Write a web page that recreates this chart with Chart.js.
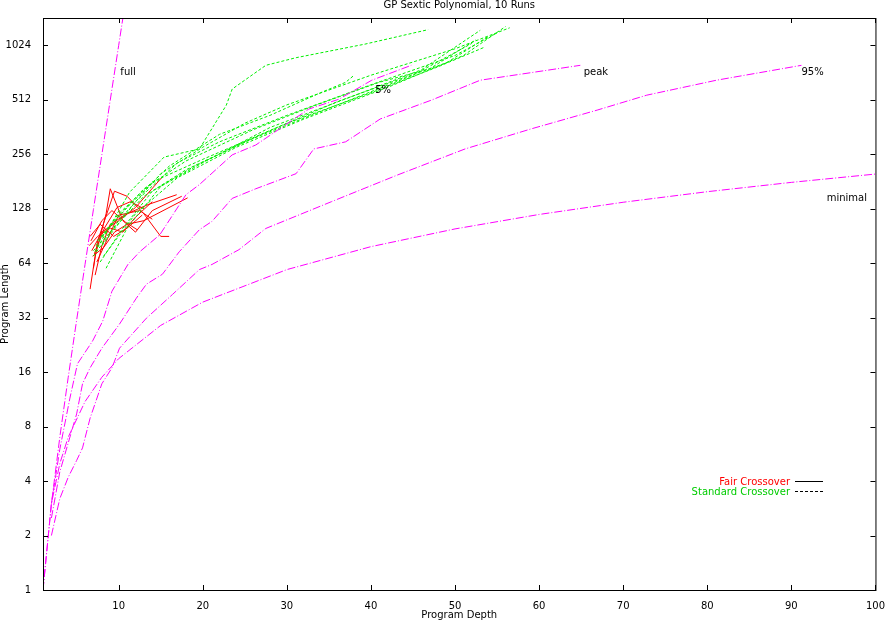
<!DOCTYPE html>
<html>
<head>
<meta charset="utf-8">
<script src="https://cdn.jsdelivr.net/npm/chart.js@4/dist/chart.umd.min.js"></script>
<style>
  body { margin: 0; background: #fff; }
  canvas { display: block; }
</style>
</head>
<body>
<canvas id="c" width="887" height="621"></canvas>
<script>
// axis ticks
const xTicks = [10, 20, 30, 40, 50, 60, 70, 80, 90, 100];
const yTicks = [1, 2, 4, 8, 16, 32, 64, 128, 256, 512, 1024];

// theoretical limits (depth, length)
const fullCurve = [[1,1],[2,3],[3,7],[4,15],[5,31],[6,63],[7,127],[8,255],[9,511],[10,1023],[11,2047]];
const minimalCurve = [[1,1],[2,3],[3,5],[4,7],[6,11],[8,15],[10,19],[15,29],[20,39],[30,59],[40,79],[50,99],[60,119],[70,139],[80,159],[90,179],[100,199]];
const pct5Curve = [[2,3],[3,6],[4.2,11.5],[5.1,17.8],[6.9,23.8],[8.1,30.6],[9.2,44.8],[11.1,63],[12.5,74],[14.9,92],[18,153],[19.6,174],[23.5,254],[26.3,288],[32.6,455],[36.2,516],[40.1,657],[44.8,794]];
const peakCurve = [[2,2.5],[3,4.5],[4,6.5],[5,9.4],[5.7,13.8],[6.6,16.9],[8,21.7],[10.1,29.5],[12.1,41],[13.3,49],[15.2,55.6],[17.2,74],[19.6,98],[21.1,109],[23.5,146],[26.3,165],[31.1,200],[33.2,274],[37,300],[41.1,401],[47.2,510],[53,657],[64.9,794]];
const pct95Curve = [[2,2],[3,3.2],[4,4.2],[5,5.2],[5.7,6.1],[6.6,8.9],[8,13.8],[9.2,16.9],[10.1,21.7],[13.3,31.8],[16.4,43],[19.6,59],[21.1,63],[24.3,76],[27.5,99.6],[35.3,140],[43.2,197],[51.2,274],[59,353],[66.9,449],[72.8,543],[81.1,657],[91.2,794]];

// fair crossover runs (red)
const redRuns = [
  [[6.6,46],[7.2,70],[8.5,120],[9,165],[10.5,110],[12,95],[14,125],[17.5,150]],
  [[7,60],[7.5,85],[9.5,160],[11,150],[13,120],[15,90],[16,90]],
  [[6.8,75],[8,95],[10,110],[12,130],[15.2,192]],
  [[7.2,55],[8,80],[9,105],[11,120],[13.5,135],[16.9,153]],
  [[6.5,80],[7.5,90],[9,100],[10.5,95],[12,115],[14,140]],
  [[6.9,70],[8.2,78],[9.5,95],[11,105],[13,110],[18.2,147]],
  [[7.4,65],[8.7,88],[10,118],[12.5,125],[14,112]],
  [[6.7,85],[8,110],[9.2,125],[10.8,108],[12.2,98]],
  [[7.1,72],[8.3,100],[9.8,130],[11.4,140],[13,128]],
  [[6.6,90],[7.8,105],[9.4,90],[11,100],[12.8,118]]
];

// standard crossover runs (green)
const greenRuns = [
  [[7.2,74],[11.3,158],[15.4,247],[19.6,274],[22.8,478],[23.5,587],[27.5,794],[31.1,875],[39.3,1040],[46.8,1250]],
  [[7,70],[10,110],[15,200],[20,280],[25,380],[30,480],[40,700],[50,980],[56.5,1280]],
  [[8,80],[12,140],[17,230],[22,300],[30,420],[40,620],[50,900],[55,1200]],
  [[8.5,60],[11,100],[15,170],[20,230],[28,360],[38,540],[46,750],[53,1240]],
  [[7.5,85],[10,120],[14,180],[20,240],[30,380],[40,560],[48,780],[53.5,1000]],
  [[7,75],[9,95],[13,150],[18,210],[25,300],[35,460],[45,700],[52,1050]],
  [[8,90],[11,130],[16,220],[22,330],[28,420],[34,560],[37,640],[38,700]],
  [[7.8,65],[10.5,100],[14,160],[19,220],[27,330],[36,500],[44,680],[49,820],[54,1150]],
  [[8.2,70],[12,120],[17,190],[24,280],[32,400],[42,600],[51,900],[56,1300]],
  [[7.3,80],[9.5,110],[13,165],[18,235],[26,350],[33,470],[41,640],[47,760],[52.5,1100]]
];

const magenta = '#ff00ff';
const toPts = arr => arr.map(p => ({ x: p[0], y: p[1] }));

const datasets = [];
[fullCurve, pct5Curve, peakCurve, pct95Curve, minimalCurve].forEach(c => {
  datasets.push({ data: toPts(c), borderColor: magenta, borderWidth: 1, borderDash: [8, 2, 1, 2], pointRadius: 0, showLine: true, tension: 0 });
});
greenRuns.forEach(r => datasets.push({ data: toPts(r), borderColor: '#00ee00', borderWidth: 1, borderDash: [3, 2], pointRadius: 0, showLine: true }));
redRuns.forEach(r => datasets.push({ data: toPts(r), borderColor: '#ff0000', borderWidth: 1, pointRadius: 0, showLine: true }));

const curveLabels = [
  { text: 'full', x: 10.2, y: 700 },
  { text: '5%', x: 40.5, y: 560 },
  { text: 'peak', x: 65.3, y: 705 },
  { text: '95%', x: 91.2, y: 705 },
  { text: 'minimal', x: 94.2, y: 142 }
];

const extras = {
  id: 'extras',
  afterDraw(chart) {
    const { ctx, chartArea: a, scales } = chart;
    ctx.save();
    ctx.strokeStyle = '#000';
    ctx.lineWidth = 1;
    ctx.strokeRect(a.left + 0.5, a.top + 0.5, a.right - a.left, a.bottom - a.top);
    // mirror ticks
    xTicks.forEach(t => {
      const px = Math.round(scales.x.getPixelForValue(t)) + 0.5;
      ctx.beginPath(); ctx.moveTo(px, a.bottom); ctx.lineTo(px, a.bottom - 5);
      ctx.moveTo(px, a.top); ctx.lineTo(px, a.top + 5); ctx.stroke();
    });
    yTicks.forEach(t => {
      const py = Math.round(scales.y.getPixelForValue(t)) + 0.5;
      ctx.beginPath(); ctx.moveTo(a.left, py); ctx.lineTo(a.left + 5, py);
      ctx.moveTo(a.right, py); ctx.lineTo(a.right - 5, py); ctx.stroke();
    });
    ctx.font = '10px "DejaVu Sans", sans-serif';
    ctx.fillStyle = '#000';
    ctx.textAlign = 'center';
    ctx.fillText('GP Sextic Polynomial, 10 Runs', (a.left + a.right) / 2, 8);
    ctx.fillText('Program Depth', (a.left + a.right) / 2, 618);
    ctx.save();
    ctx.translate(8, (a.top + a.bottom) / 2);
    ctx.rotate(-Math.PI / 2);
    ctx.fillText('Program Length', 0, 0);
    ctx.restore();
    ctx.textAlign = 'left';
    curveLabels.forEach(l => ctx.fillText(l.text, scales.x.getPixelForValue(l.x), scales.y.getPixelForValue(l.y)));
    // legend
    ctx.textAlign = 'right';
    ctx.fillStyle = '#ff0000';
    ctx.fillText('Fair Crossover', 790, 485);
    ctx.fillStyle = '#00cc00';
    ctx.fillText('Standard Crossover', 790, 495);
    ctx.beginPath(); ctx.moveTo(795, 481.5); ctx.lineTo(823, 481.5); ctx.stroke();
    ctx.setLineDash([3, 2]);
    ctx.beginPath(); ctx.moveTo(795, 491.5); ctx.lineTo(823, 491.5); ctx.stroke();
    ctx.restore();
  }
};

new Chart(document.getElementById('c'), {
  type: 'scatter',
  data: { datasets },
  options: {
    responsive: false,
    animation: false,
    layout: { padding: { top: 18, right: 6, left: 0, bottom: 0 } },
    plugins: { legend: { display: false }, tooltip: { enabled: false } },
    scales: {
      x: {
        type: 'linear', min: 1, max: 100,
        afterBuildTicks: s => { s.ticks = xTicks.map(v => ({ value: v })); },
        afterFit: s => { s.height = 31; },
        grid: { display: false },
        border: { display: false },
        ticks: { color: '#000', font: { size: 10, family: 'DejaVu Sans' }, maxRotation: 0, padding: 2 }
      },
      y: {
        type: 'logarithmic', min: 1, max: 1450,
        afterBuildTicks: s => { s.ticks = yTicks.map(v => ({ value: v })); },
        afterFit: s => { s.width = 43; },
        grid: { display: false },
        border: { display: false },
        ticks: { color: '#000', font: { size: 10, family: 'DejaVu Sans' }, callback: v => String(v), padding: 4 }
      }
    }
  },
  plugins: [extras]
});
</script>
</body>
</html>
